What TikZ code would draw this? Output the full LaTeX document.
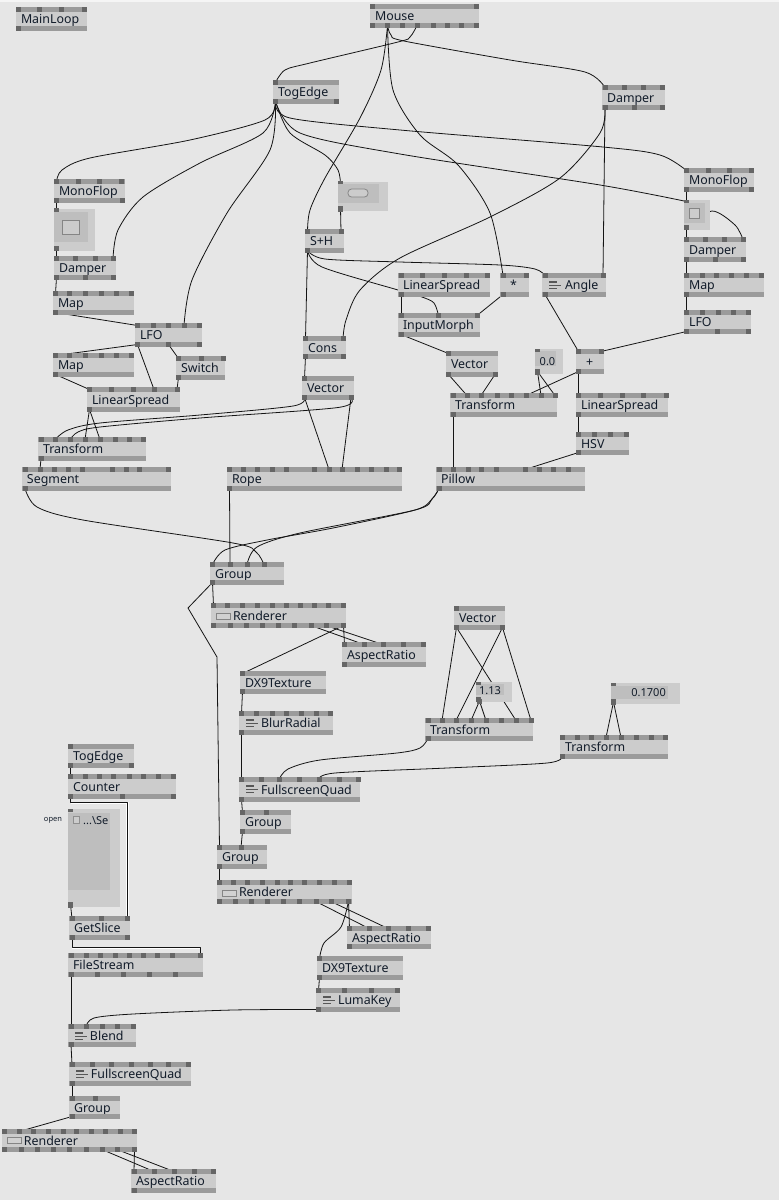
\documentclass[tikz,border=0pt]{standalone}
\usepackage{fontspec}
\setmainfont{Noto Sans}
\definecolor{bgc}{HTML}{E6E6E6}
\definecolor{bodyc}{HTML}{CCCCCC}
\definecolor{stripc}{HTML}{9B9B9B}
\definecolor{pinc}{HTML}{666666}
\definecolor{innerc}{HTML}{BEBEBE}
\definecolor{txtc}{HTML}{121C2A}
\definecolor{wirec}{HTML}{141414}
\pgfdeclarelayer{bg}\pgfdeclarelayer{wires}\pgfsetlayers{bg,wires,main}
\tikzset{
 vbody/.style={anchor=north west,fill=bodyc,inner ysep=0pt,inner xsep=5pt,outer sep=0pt,align=left,text=txtc,font=\fontsize{12.4}{13}\selectfont,text height=9pt,text depth=0pt},
 pinbox/.style={fill=pinc,minimum width=5pt,minimum height=5pt,inner sep=0pt,outer sep=0pt},
 thinpin/.style={fill=pinc,minimum width=5pt,minimum height=3pt,inner sep=0pt,outer sep=0pt},
 wire/.style={draw=wirec,line width=.8pt,line join=round},
 halo/.style={draw=white,line width=2.2pt,line join=miter},
 iotext/.style={text=txtc,inner sep=0pt,font=\fontsize{11}{12}\selectfont,text height=8pt,text depth=0pt},
}
% id x y w h label inpins outpins
\newcommand\vn[8]{%
 \node[vbody,minimum width=#4pt,minimum height=#5pt,text width={#4pt-10pt}] (#1) at (#2,#3) {#6};
 \fill[stripc] (#2,#3) rectangle ++(#4,5);
 \fill[stripc] (#2,#3+#5-5) rectangle ++(#4,5);
 \foreach \p [count=\i] in {#7} {\node[pinbox] (#1-i\i) at (\p,#3+2.5) {};}
 \foreach \p [count=\i] in {#8} {\node[pinbox] (#1-o\i) at (\p,#3+#5-2.5) {};}
}
% id x y w h : outer box with a top and a bottom pin (pin x given)
\newcommand\vio[6]{%
 \node[anchor=north west,fill=bodyc,minimum width=#4pt,minimum height=#5pt,inner sep=0pt,outer sep=0pt] (#1) at (#2,#3) {};
 \node[#6] (#1-i1) at (#2+2.5,#3+1.5) {};
 \node[pinbox] (#1-o1) at (#2+2.5,#3+#5-2.5) {};
}
\newcommand\bars[2]{%
 \fill[pinc!85!black] (#1+6.5,#2+8) rectangle ++(8,2);
 \fill[pinc!85!black] (#1+6.5,#2+12) rectangle ++(12.5,1.4);
 \fill[pinc!85!black] (#1+6.5,#2+15) rectangle ++(8.5,1.4);
}
\newcommand\screen[2]{\draw[fill=bodyc!90!white,draw=pinc!80!white,line width=.7pt] (#1+5,#2+10) rectangle ++(14,6);}
\newcommand\wl[2]{\draw[wire] (#1.center) -- (#2.center);}
\newcommand\wc[1]{\draw[wire] plot[smooth,tension=.5] coordinates {#1};}
\begin{document}
\begin{tikzpicture}[x=1pt,y=-1pt]
\useasboundingbox (0,0) rectangle (779,1200);
\begin{pgfonlayer}{bg}
\fill[bgc] (0,0) rectangle (779,1200);
\fill[white!60!bgc] (0,0) rectangle (779,1.5);
\end{pgfonlayer}

\vn{mainloop}{16}{7}{71}{24}{MainLoop}{18.5,39.5,61.5,84}{18.5}
\vn{mouse}{370}{4}{109}{24}{Mouse}{372.5,476}{372.5,387.5,402,417,433,447,461,476}
\vn{togedge}{273}{80}{66}{24}{TogEdge}{275.5}{275.5,336.5}
\vn{damperA}{602}{85}{63}{25}{Damper}{605,624,643,662}{605,634,662}
\vn{monoA}{54}{179}{71}{24}{MonoFlop}{56.5,78.5,99.5,121.5}{56.5,122}
\vn{damperB}{54}{256}{62}{24}{Damper}{56.5,75.5,95,113}{56.5,85.5,113}
\vn{mapA}{53}{291}{81}{24}{Map}{55.5,69,85,101,116,131}{55.5}
\vn{lfoA}{135}{323}{67}{24}{LFO}{137.5,153,168.5,184,199.5}{137.5,168.5,199.5}
\vn{mapB}{53}{353}{81}{24}{Map}{55.5,69,85,101,116,131}{55.5}
\vn{switch}{176}{356}{49}{24}{Switch}{178.5,201,223}{178.5}
\vn{lsA}{87}{387}{93}{25}{LinearSpread}{89.5,111,133,154,177}{89.5}
\vn{trA}{38}{437}{108}{24}{Transform}{41,55,70,85,100,115,129,143}{41}
\vn{segment}{22}{467}{149}{24}{Segment}{25,40,54,68,82,112,126,139,168}{25}
\vn{rope}{227}{467}{175}{24}{Rope}{229.5,243,257,272,286,314,329,342,357,371,386,399}{229.5}
\vn{sh}{305}{229}{39}{24}{S+H}{307.5,341}{307.5}
\vn{cons}{303}{336}{43}{23}{Cons}{305.5,343}{305.5,343}
\vn{vecA}{302}{376}{52}{24}{Vector}{304.5}{304.5,351}
\vn{groupA}{210}{562}{74}{23}{Group}{212.5,230,247,264}{212.5}
\vn{lsB}{398}{273}{92}{24}{LinearSpread}{401,422,444,466,487}{401}
\vn{mul}{500}{273}{29}{24}{\hspace*{5pt}*}{503,526}{503}
\vn{angle}{542}{273}{64}{24}{\hspace*{18pt}Angle}{545,603}{545}
\vn{monoB}{684}{168}{70}{24}{MonoFlop}{686.5,708,729,751}{686.5,751}
\vn{damperC}{684}{237}{62}{25}{Damper}{686.5,705,724,743}{686.5,715,743}
\vn{mapC}{684}{273}{80}{24}{Map}{686.5,702,716,731,746,761}{686.5}
\vn{lfoB}{684}{310}{67}{24}{LFO}{686.5,702,718,733,748}{686.5,717,748}
\vn{morph}{398}{313}{82}{24}{InputMorph}{401,438.5,477}{401}
\vn{vecB}{446}{351}{52}{26}{Vector}{448.5}{448.5,495}
\vn{plus}{576}{349}{28}{25}{\hspace*{5pt}+}{578.5,601}{578.5}
\vn{trB}{450}{393}{107}{24}{Transform}{453,467,481,497,511,526,541,555}{453}
\vn{lsC}{576}{393}{92}{24}{LinearSpread}{578.5,600,622,643,666}{578.5}
\vn{hsv}{576}{432}{53}{23}{HSV}{578.5,594,610,626}{578.5}
\vn{pillow}{436}{467}{149}{24}{Pillow}{439,453,468,481,496,525,539,553,568}{439}
\vn{rendA}{211}{603}{135}{25}{\hspace*{17pt}Renderer}{213.5,227,242,257,272,286,300,314,328,343.5}{213.5,230,246,262,278,294,311,326,343.5}
\vn{arA}{342}{642}{84}{25}{AspectRatio}{344.5,364,383,403,423}{344.5}
\vn{dxA}{240}{671}{86}{23}{DX9Texture}{242.5}{242.5}
\vn{blur}{239}{711}{94}{24}{\hspace*{17pt}BlurRadial}{241.5,256,272,286,301,316,330}{241.5}
\vn{fsqA}{239}{777}{121}{25}{\hspace*{17pt}FullscreenQuad}{241.5,261,279,299,319,339,358}{241.5}
\vn{groupB}{240}{810}{51}{24}{Group}{242.5,266}{242.5}
\vn{groupC}{217}{845}{50}{24}{Group}{219.5,241}{219.5}
\vn{rendB}{217}{880}{135}{24}{\hspace*{17pt}Renderer}{219.5,233,247,262,277,290,304,319,334,349}{219.5,235,251,267,283,299,316,331,348.5}
\vn{arB}{347}{926}{84}{23}{AspectRatio}{349.5,369,388,408,428}{349.5}
\vn{dxB}{317}{956}{86}{24}{DX9Texture}{319.5}{319.5}
\vn{luma}{316}{988}{84}{24}{\hspace*{17pt}LumaKey}{318.5,344,371,397}{318.5}
\vn{vecC}{454}{606}{51}{24}{Vector}{456.5}{456.5,502.5}
\vn{trC}{425}{718}{108}{23}{Transform}{428,442,456,471,486,501,516,531}{428}
\vn{trD}{560}{735}{108}{24}{Transform}{562.5,577,591,606,621,636,651,665}{562.5}
\vn{togB}{68}{744}{66}{24}{TogEdge}{70.5}{70.5,131.5}
\vn{counter}{68}{774}{108}{25}{Counter}{70.5,85,99,113,129,143,158,173}{70.5,122,173}
\vn{getslice}{69}{916}{61}{24}{GetSlice}{72,101,127}{72,127}
\vn{filestream}{68}{953}{135}{24}{FileStream}{71,86,100,115,129,143,157,172,200.5}{71,97,123,149,175}
\vn{blend}{68}{1024}{68}{23}{\hspace*{17pt}Blend}{71,86,102,117,133}{71}
\vn{fsqB}{69}{1062}{122}{24}{\hspace*{17pt}FullscreenQuad}{72,92,111,131,150,168,188}{72}
\vn{groupD}{69}{1096}{51}{23}{Group}{72,95}{72}
\vn{rendC}{2}{1129}{135}{23}{\hspace*{17pt}Renderer}{4.5,19,33,48,63,76,91,105,120,134.5}{4.5,21,37,53,69,86,102,117,134.5}
\vn{arC}{131}{1169}{85}{24}{AspectRatio}{134,154,174,194,213}{134}

% icons
\bars{542}{273}\bars{239}{711}\bars{239}{777}\bars{68}{1024}\bars{69}{1062}\bars{316}{988}
\screen{211}{603}\screen{217}{880}\screen{2}{1127}

% IO boxes
\vio{togA}{54}{209}{41}{42}{pinbox}
\fill[innerc] (54,212) rectangle (88,242);
\draw[fill=bodyc,draw=pinc!70!bodyc,line width=.8pt] (62,220) rectangle (79,234);
\node[thinpin] at (56.5,210.5) {};\node[pinbox] at (56.5,248.5) {};
\vio{bang}{338}{182}{50}{29}{thinpin}
\fill[innerc] (338,184) rectangle (379,203);
\draw[fill=bodyc,draw=pinc!70!bodyc,line width=.8pt,rounded corners=3.5pt] (348,189) rectangle (368,197);
\node[thinpin] at (340.5,182) {};\node[pinbox,minimum height=6pt] at (340.5,209) {};
\vio{togC}{684}{200}{26}{30}{thinpin}
\fill[innerc] (684,203) rectangle (705,223);
\draw[fill=bodyc,draw=pinc!70!bodyc,line width=.6pt] (689,208) rectangle (699,218);
\node[thinpin] at (686.5,201.5) {};\node[pinbox] at (686.5,227.5) {};
\vio{valA}{535}{349}{28}{25}{thinpin}
\fill[innerc] (535,351) rectangle (556,366);
\node[iotext,anchor=base] (valAt) at (547.5,365) {0.0};
\node[thinpin] at (537.5,350.5) {};\node[pinbox] at (537.5,372.5) {};
\vio{valB}{476}{682}{36}{20}{thinpin}
\fill[innerc] (476,684) rectangle (504,695);
\node[iotext,anchor=base] (valBt) at (490,694) {1.13};
\node[pinbox] (valB-o2) at (479.5,701) {};
\node[thinpin] at (478.5,683.5) {};
\vio{valC}{611}{683}{69}{21}{thinpin}
\fill[innerc] (611,686) rectangle (668,699);
\node[iotext,anchor=base east] (valCt) at (666,696) {0.1700};
\node[pinbox] (valC-o2) at (613.5,702) {};
\vio{spread}{68}{809}{52}{98}{thinpin}
\fill[innerc] (68,813) rectangle (110,890);
\begin{scope}
\clip (68,813) rectangle (108,830);
\node[iotext,anchor=base west,font=\fontsize{11}{12}\selectfont] (spreadt) at (83,824) {...\textbackslash Se};
\end{scope}
\draw[fill=bodyc,draw=pinc!60!bodyc,line width=.5pt] (73.5,816) rectangle (79.5,823);
\node[text=txtc,inner sep=0pt,font=\fontsize{7.5}{9}\selectfont,anchor=base] (openlabel) at (53,821) {open};
\node[thinpin] at (70.5,810.5) {};\node[pinbox,minimum height=6pt] at (70.5,905) {};

\begin{pgfonlayer}{wires}
% Mouse
\wc{(mouse-o2.center)(381,70)(360,118)(325,178)(310,210)(sh-i1.center)}
\wc{(mouse-o2.center)(393,90)(420,135)(458,165)(490,213)(mul-i1.center)}
\wc{(mouse-o2.center)(391,35)(404,41)(510,60)(585,72)(damperA-i1.center)}
\wc{(mouse-o4.center)(410,37)(398,42)(310,63)(285,70)(togedge-i1.center)}
% TogEdge
\wc{(togedge-o1.center)(265,120)(190,140)(90,158)(62,170)(monoA-i1.center)}
\wc{(togedge-o1.center)(263,133)(200,163)(143,197)(118,230)(damperB-i4.center)}
\wc{(togedge-o1.center)(270,150)(227,213)(192,280)(lfoA-i4.center)}
\wc{(togedge-o1.center)(290,133)(325,155)(338,170)(bang-i1.center)}
\wc{(togedge-o1.center)(290,118)(400,130)(603,147)(660,155)(monoB-i1.center)}
\wc{(togedge-o1.center)(300,133)(400,154)(600,185)(togC-i1.center)}
\wc{(togC-o1.center)(712,211)(735,225)(damperC-i4.center)}
\wl{monoA-o1}{togA-i1}\wl{togA-o1}{damperB-i1}\wl{damperB-o1}{mapA-i1}
\wl{mapA-o1}{lfoA-i1}\wl{lfoA-o1}{mapB-i1}\wl{lfoA-o1}{lsA-i4}\wl{lfoA-o2}{switch-i1}
\wl{mapB-o1}{lsA-i1}\wl{switch-o1}{lsA-i5}\wl{lsA-o1}{trA-i4}\wl{lsA-o1}{trA-i5}
\wl{trA-o1}{segment-i2}
% S+H
\wl{bang-o1}{sh-i2}
\wl{sh-o1}{cons-i1}
\wc{(sh-o1.center)(325,259)(400,262)(500,265)(535,269)(angle-i1.center)}
\wc{(sh-o1.center)(322,267)(398,290)(422,297)(434,303)(morph-i2.center)}
\wc{(damperA-o1.center)(600,133)(560,178)(490,217)(400,258)(360,290)(346,320)(cons-i2.center)}
\wl{damperA-o1}{angle-i2}
\wl{cons-o1}{vecA-i1}
\wc{(vecA-o1.center)(293,406)(200,415)(100,423)(68,430)(trA-i2.center)}
\wc{(vecA-o2.center)(338,407.5)(200,418)(100,427)(78,432)(trA-i3.center)}
\wl{vecA-o1}{rope-i7}\wl{vecA-o2}{rope-i8}
\wl{rope-o1}{groupA-i2}
% right part
\wl{monoB-o1}{togC-i1}\wl{togC-o1}{damperC-i1}\wl{damperC-o1}{mapC-i1}\wl{mapC-o1}{lfoB-i1}
\wl{lfoB-o1}{plus-i2}\wl{angle-o1}{plus-i1}
\wl{lsB-o1}{morph-i1}\wl{mul-o1}{morph-i3}\wl{morph-o1}{vecB-i1}
\wl{vecB-o1}{trB-i2}\wl{vecB-o2}{trB-i3}
\wl{plus-o1}{lsC-i1}\wl{plus-o1}{trB-i6}
\wl{valA-o1}{trB-i7}\wl{valA-o1}{trB-i8}
\wl{lsC-o1}{hsv-i1}\wl{hsv-o1}{pillow-i6}\wl{trB-o1}{pillow-i2}
% into Group
\wc{(pillow-o1.center)(432,499)(415,510)(333,528)(267,540)(225,550)(groupA-i1.center)}
\wc{(pillow-o1.center)(432,499)(415,510)(300,533)(257,547)(groupA-i3.center)}
\wc{(segment-o1.center)(37,507)(83,520)(233,543)(256,552)(groupA-i4.center)}
\wl{groupA-o1}{rendA-i1}
\draw[wire] (groupA-o1.center) -- (188,608) -- (217,657) -- (groupC-i1.center);
% Renderer 1
\wl{rendA-o7}{arA-i2}\wl{rendA-o8}{arA-i3}\wl{rendA-o9}{arA-i1}\wl{rendA-o9}{dxA-i1}
\wl{dxA-o1}{blur-i1}\wl{blur-o1}{fsqA-i1}\wl{fsqA-o1}{groupB-i1}\wl{groupB-o1}{groupC-i2}
\wl{vecC-o1}{trC-i2}\wl{vecC-o1}{trC-i7}\wl{vecC-o2}{trC-i3}\wl{vecC-o2}{trC-i8}
\wl{valB-o2}{trC-i4}\wl{valB-o2}{trC-i5}
\wl{valC-o2}{trD-i4}\wl{valC-o2}{trD-i5}
\wc{(trC-o1.center)(420,748)(397,753)(320,760)(288,769)(fsqA-i3.center)}
\wc{(trD-o1.center)(547,763)(447,768)(335,773)(fsqA-i5.center)}
% Renderer 2
\wl{groupC-o1}{rendB-i1}
\wl{rendB-o7}{arB-i2}\wl{rendB-o8}{arB-i3}\wl{rendB-o9}{arB-i1}
\wc{(rendB-o9.center)(341,927)(324,943)(dxB-i1.center)}
\wl{dxB-o1}{luma-i1}
\wc{(luma-o1.center)(233,1010)(133,1014)(94,1018)(blend-i2.center)}
% bottom-left column
\wl{togB-o1}{counter-i1}
\draw[halo] (70.5,803) -- (127.5,803) -- (127.5,916);
\draw[wire] (counter-o1.center) |- (127,802) -- (getslice-i3.center);
\wl{spread-o1}{getslice-i1}
\draw[halo] (72,948) -- (200.5,948);
\draw[wire] (getslice-o1.center) |- (200.5,947) -- (filestream-i9.center);
\wl{filestream-o1}{blend-i1}\wl{blend-o1}{fsqB-i1}\wl{fsqB-o1}{groupD-i1}
\wl{groupD-o1}{rendC-i2}
\wl{rendC-o7}{arC-i2}\wl{rendC-o8}{arC-i3}\wl{rendC-o9}{arC-i1}
\end{pgfonlayer}
\end{tikzpicture}
\end{document}
